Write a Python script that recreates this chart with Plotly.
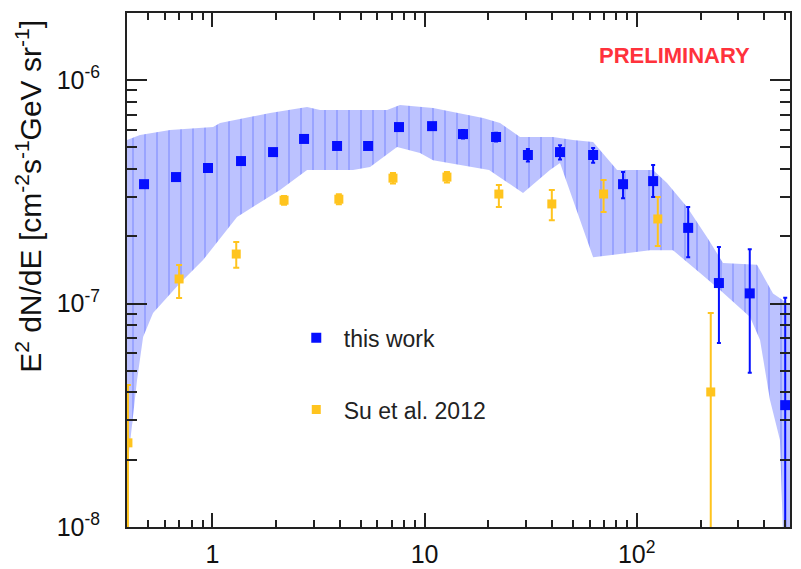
import plotly.graph_objects as go

# ---- data: "this work" ----
work_E = [0.4765, 0.674, 0.954, 1.365, 1.932, 2.705, 3.87, 5.42, 7.58, 10.85, 15.18, 21.73,
          30.7, 43.5, 62.3, 86.2, 119.5, 174.8, 244.0, 341.0, 501.0]
work_F = [3.42e-7, 3.68e-7, 4.04e-7, 4.34e-7, 4.76e-7, 5.45e-7, 5.07e-7, 5.07e-7, 6.16e-7, 6.22e-7,
          5.73e-7, 5.56e-7, 4.62e-7, 4.76e-7, 4.62e-7, 3.42e-7, 3.53e-7, 2.18e-7, 1.235e-7, 1.11e-7, 3.51e-8]
work_err_up = [0.07e-7, 0.07e-7, 0.08e-7, 0.09e-7, 0.1e-7, 0.12e-7, 0.12e-7, 0.12e-7, 0.2e-7, 0.2e-7,
               0.25e-7, 0.25e-7, 0.3e-7, 0.35e-7, 0.35e-7, 0.46e-7, 0.64e-7, 0.52e-7, 0.555e-7, 0.64e-7, 0.71e-7]
work_err_dn = [0.07e-7, 0.07e-7, 0.08e-7, 0.09e-7, 0.1e-7, 0.12e-7, 0.12e-7, 0.12e-7, 0.2e-7, 0.2e-7,
               0.25e-7, 0.25e-7, 0.3e-7, 0.35e-7, 0.35e-7, 0.46e-7, 0.53e-7, 0.57e-7, 0.569e-7, 0.62e-7, 3.509e-8]

# ---- systematic band ----
band_up_E = [0.396, 0.456, 0.632, 1.008, 1.087, 1.870, 2.795, 3.218, 6.66, 7.66, 10.97, 18.87, 22.69,
             28.19, 40.3, 50.1, 62.3, 80.8, 119.4, 138.9, 172.6, 214.5, 255.1, 368.8, 438.8, 510.9, 528.0]
band_up_F = [5.39e-7, 5.67e-7, 5.97e-7, 6.16e-7, 6.42e-7, 7.12e-7, 7.57e-7, 7.34e-7, 7.34e-7, 7.73e-7,
             7.49e-7, 6.76e-7, 6.42e-7, 5.56e-7, 5.56e-7, 5.39e-7, 5.28e-7, 3.96e-7, 3.96e-7, 3.46e-7,
             2.70e-7, 1.98e-7, 1.52e-7, 1.49e-7, 1.11e-7, 1.005e-7, 1.0e-7]
band_lo_E = [0.396, 0.4416, 0.4716, 0.5254, 0.7046, 0.904, 1.307, 2.084, 2.795, 4.604, 5.535, 7.42, 9.52,
             10.97, 20.14, 29.12, 39.0, 43.5, 62.3, 115.5, 148.3, 198.8, 246.9, 342.0, 381.2, 424.7,
             473.3, 499.7, 528.0]
band_lo_F = [1.80e-8, 4.55e-8, 7.08e-8, 9.07e-8, 1.235e-7, 1.565e-7, 2.44e-7, 3.22e-7, 3.96e-7, 3.96e-7,
             4.08e-7, 5.01e-7, 4.71e-7, 4.38e-7, 3.96e-7, 3.12e-7, 3.96e-7, 4.25e-7, 1.61e-7, 1.73e-7,
             1.73e-7, 1.37e-7, 1.15e-7, 8.70e-8, 6.87e-8, 3.70e-8, 2.45e-8, 5e-9, 5e-9]

# ---- Su et al. 2012 ----
su_E = [0.4, 0.697, 1.296, 2.177, 3.946, 7.10, 12.75, 22.4, 39.8, 69.8, 125.7, 223.3]
su_F = [2.38e-8, 1.288e-7, 1.665e-7, 2.90e-7, 2.93e-7, 3.64e-7, 3.68e-7, 3.09e-7, 2.79e-7, 3.09e-7, 2.39e-7, 4.02e-8]
su_err_up = [1.94e-8, 0.20e-7, 0.22e-7, 0.13e-7, 0.15e-7, 0.2e-7, 0.2e-7, 0.30e-7, 0.43e-7, 0.48e-7, 0.61e-7, 5.05e-8]
su_err_dn = [2.379e-8, 0.23e-7, 0.22e-7, 0.13e-7, 0.15e-7, 0.2e-7, 0.2e-7, 0.39e-7, 0.43e-7, 0.52e-7, 0.58e-7, 4.019e-8]

x_ticks = [1, 10, 100]
x_ticktext = ["1", "10", "10<sup>2</sup>"]
y_ticks = [1e-8, 1e-7, 1e-6]
y_ticktext = ["10<sup>-8</sup>", "10<sup>-7</sup>", "10<sup>-6</sup>"]
x_minor = [0.4, 0.5, 0.6, 0.7, 0.8, 0.9, 2, 3, 4, 5, 6, 7, 8, 9, 20, 30, 40, 50, 60, 70, 80, 90,
           200, 300, 400, 500]
y_minor = [m * 10.0 ** e for e in (-8, -7) for m in range(2, 10)] + [2e-6]

BLUE = "rgb(5,15,255)"
YEL = "rgb(255,196,30)"
FONT = "Liberation Sans, Arial, sans-serif"

fig = go.Figure()

fig.add_trace(go.Scatter(
    x=band_up_E + band_lo_E[::-1], y=band_up_F + band_lo_F[::-1],
    mode="lines", fill="toself", line=dict(width=0),
    fillcolor="rgb(190,195,255)",
    fillpattern=dict(shape="|", fgcolor="rgba(70,90,255,0.65)", bgcolor="rgb(188,194,255)",
                     size=12, solidity=0.15),
    showlegend=False, hoverinfo="skip"))

fig.add_trace(go.Scatter(
    x=su_E, y=su_F, mode="markers", name="Su et al. 2012",
    marker=dict(symbol="square", size=9, color=YEL),
    error_y=dict(type="data", array=su_err_up, arrayminus=su_err_dn, color=YEL, thickness=2, width=3),
    legendgroup="b", legendrank=2))

fig.add_trace(go.Scatter(
    x=work_E, y=work_F, mode="markers", name="this work",
    marker=dict(symbol="square", size=10, color=BLUE),
    error_y=dict(type="data", array=work_err_up, arrayminus=work_err_dn, color=BLUE, thickness=2, width=2),
    legendgroup="a", legendrank=1))

axis_common = dict(
    showline=True, linecolor="#222", linewidth=2, mirror="allticks", automargin=False,
    ticks="inside", tickcolor="#222", showgrid=False, zeroline=False,
    tickfont=dict(family=FONT, size=25, color="#111"),
)

fig.update_xaxes(type="log", range=[-0.4023, 2.7224], tickmode="array", tickvals=x_ticks,
                 ticktext=x_ticktext, ticklen=14, tickwidth=2, ticklabelstandoff=4,
                 minor=dict(tickmode="array", tickvals=x_minor, ticks="inside", ticklen=7,
                            tickcolor="#222", tickwidth=1.5),
                 **axis_common)
fig.update_yaxes(type="log", range=[-8, -5.7], tickmode="array", tickvals=y_ticks,
                 ticktext=y_ticktext, ticklen=20, tickwidth=2, ticklabelstandoff=20,
                 minor=dict(tickmode="array", tickvals=y_minor, ticks="inside", ticklen=10,
                            tickcolor="#222", tickwidth=1.5),
                 **axis_common)

fig.add_annotation(
    text="E<sup>2</sup> dN/dE [cm<sup>-2</sup>s<sup>-1</sup>GeV sr<sup>-1</sup>]",
    xref="paper", yref="paper", x=-0.148, y=0.644, textangle=-90, showarrow=False,
    font=dict(family=FONT, size=30, color="#111"), xanchor="center", yanchor="middle")

fig.add_annotation(
    text="<b>PRELIMINARY</b>", xref="paper", yref="paper", x=0.8258, y=0.918, showarrow=False,
    font=dict(family=FONT, size=22, color="rgb(255,50,60)"), xanchor="center", yanchor="middle")

# page body adds an 8px margin, so the figure is sized to fit the 801x569 window
fig.update_layout(
    width=793, height=561,
    margin=dict(l=119, r=11, t=5, b=42),
    paper_bgcolor="white", plot_bgcolor="white",
    legend=dict(x=0.244, y=0.41, xanchor="left", yanchor="top", traceorder="grouped",
                tracegroupgap=39, itemwidth=45, bgcolor="rgba(0,0,0,0)",
                font=dict(family=FONT, size=23, color="#222")),
)

fig.write_html("out.html")
